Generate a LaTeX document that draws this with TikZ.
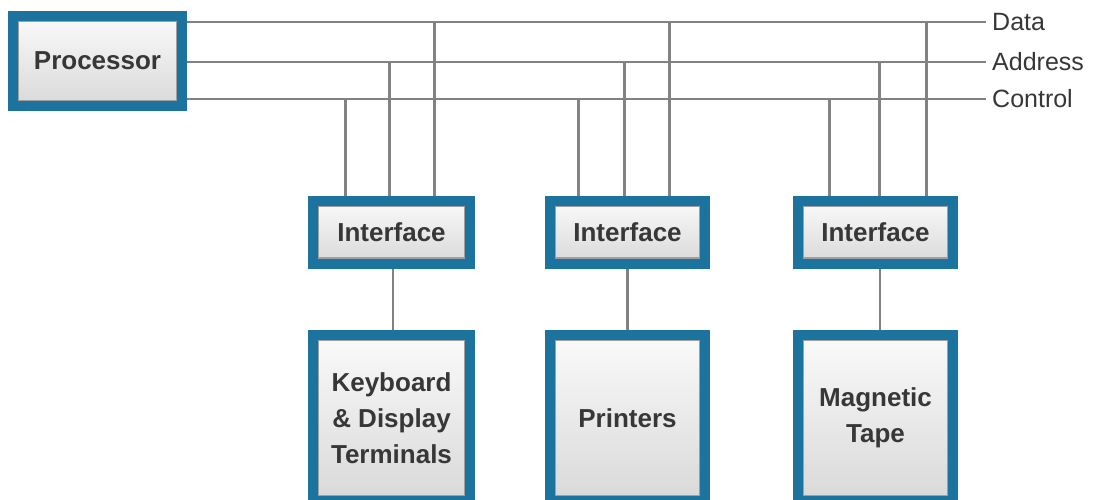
\documentclass[tikz,border=0pt]{standalone}
\usepackage{fontspec}
\setmainfont{Liberation Sans}
\usepackage{tikz}
\usetikzlibrary{calc, backgrounds}

\definecolor{boxblue}{RGB}{28,115,158}
\definecolor{busgray}{RGB}{130,130,130}
\definecolor{txtgray}{RGB}{55,55,55}

\tikzset{
  unit/.style={draw=boxblue, line width=10pt, top color=gray!4, bottom color=gray!30,
    text=txtgray, align=center, font=\fontsize{26}{36}\selectfont\bfseries,
    path picture={\draw[gray!75,line width=1.2pt]
      ([shift={(5.6pt,-5.6pt)}]path picture bounding box.north west) rectangle
      ([shift={(-5.6pt,5.6pt)}]path picture bounding box.south east);}},
  bus/.style={draw=busgray, line width=2.6pt},
  buslabel/.style={anchor=west, inner sep=0pt, text=txtgray, font=\fontsize{25}{28}\selectfont}
}

\begin{document}
\begin{tikzpicture}[x=1pt,y=-1pt]
			\useasboundingbox (0,0) rectangle (1095,499);
			\node (proc) [unit, minimum width=169pt, minimum height=90pt] at (97.5,61){Processor};
			
			\node (if1) [unit, minimum width=157pt, minimum height=63pt] at (391.5,232){Interface};
			\node (if2) [unit, minimum width=155pt, minimum height=63pt] at (627.5,232){Interface};
			\node (if3) [unit, minimum width=155pt, minimum height=63pt] at (875.5,232){Interface};
			
			\node (dev1) [unit, minimum width=157pt, minimum height=166pt] at (391.5,418){Keyboard\\ \& Display\\ Terminals};
			\node (dev2) [unit, minimum width=155pt, minimum height=166pt] at (627.5,418){Printers};
			\node (dev3) [unit, minimum width=155pt, minimum height=166pt] at (875.5,418){Magnetic\\ Tape};
			
			% bus lines and their labels
			\node (data) [buslabel] at (992,22){Data};
			\node (addr) [buslabel] at (992,62){Address};
			\node (ctrl) [buslabel] at (992,99){Control};
			
			\begin{scope}[on background layer]
			\draw[bus, shorten >=6pt] (proc.east |- data.west) -- (data.west);
			\draw[bus, shorten >=6pt] (proc.east |- addr.west) -- (addr.west);
			\draw[bus, shorten >=6pt] (proc.east |- ctrl.west) -- (ctrl.west);
			
			% taps from the bus down to the interfaces
			\foreach \i/\c/\a/\d in {if1/-46/-2/43, if2/-49/-3/42, if3/-46/4/51}{
				\draw[bus] ([xshift=\c pt]\i.north) -- ([xshift=\c pt]\i.north |- ctrl.west);
				\draw[bus] ([xshift=\a pt]\i.north) -- ([xshift=\a pt]\i.north |- addr.west);
				\draw[bus] ([xshift=\d pt]\i.north) -- ([xshift=\d pt]\i.north |- data.west);
			}
			
			\draw[bus] ([xshift=1.5pt]if1.south) -- ([xshift=1.5pt]dev1.north);
			\draw[bus] (if2.south) -- (dev2.north);
			\draw[bus] ([xshift=4.5pt]if3.south) -- ([xshift=4.5pt]dev3.north);
			\end{scope}
		\end{tikzpicture}
\end{document}
